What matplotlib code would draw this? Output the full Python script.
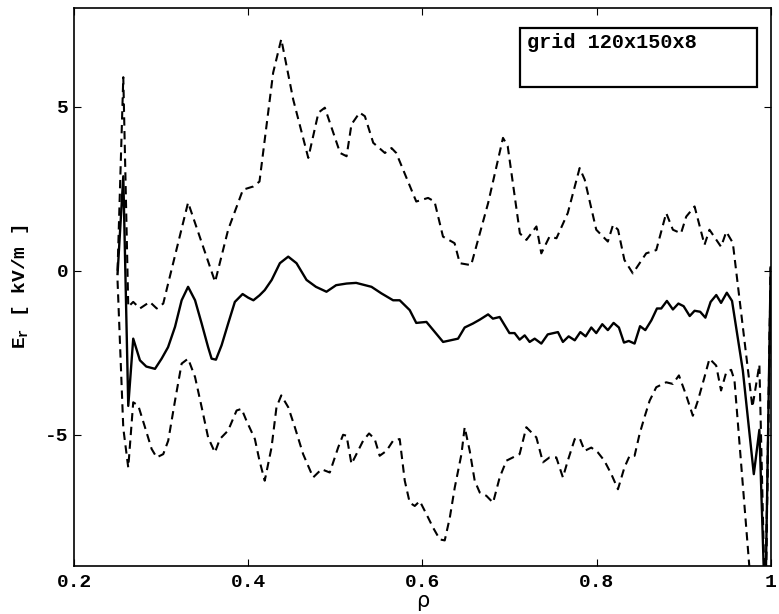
import matplotlib
matplotlib.use("Agg")
import matplotlib.pyplot as plt
from matplotlib.patches import Rectangle

# ---- data ----
rho_mean = [0.250, 0.2566, 0.2623, 0.268, 0.2757, 0.283, 0.293, 0.3006, 0.308, 0.316,
            0.3236, 0.331, 0.339, 0.3466, 0.354, 0.358, 0.363, 0.3695, 0.377, 0.3847,
            0.3936, 0.400, 0.406, 0.413, 0.419, 0.427, 0.4364, 0.446, 0.4555, 0.467,
            0.4778, 0.4899, 0.501, 0.513, 0.524, 0.5416, 0.553, 0.5664, 0.574, 0.5855,
            0.593, 0.6047, 0.6238, 0.641, 0.6486, 0.658, 0.666, 0.6755, 0.681, 0.6888,
            0.700, 0.7059, 0.7117, 0.7175, 0.7232, 0.729, 0.7366, 0.744, 0.7557, 0.7614,
            0.768, 0.775, 0.7814, 0.7875, 0.794, 0.7997, 0.8066, 0.813, 0.8196, 0.8257,
            0.8315, 0.837, 0.8437, 0.850, 0.856, 0.863, 0.8694, 0.8743, 0.8808, 0.8877,
            0.894, 0.900, 0.907, 0.9126, 0.919, 0.925, 0.931, 0.9375, 0.943, 0.9496,
            0.9556, 0.968, 0.9806, 0.987, 0.9937, 1.000]
er_mean = [-0.1, 2.88, -4.12, -2.07, -2.73, -2.92, -2.99, -2.68, -2.33, -1.71,
           -0.9, -0.49, -0.9, -1.61, -2.33, -2.68, -2.71, -2.27, -1.61, -0.95,
           -0.71, -0.82, -0.9, -0.75, -0.59, -0.28, 0.23, 0.43, 0.23, -0.28,
           -0.49, -0.64, -0.44, -0.39, -0.37, -0.49, -0.69, -0.9, -0.9, -1.2,
           -1.59, -1.56, -2.17, -2.07, -1.73, -1.61, -1.49, -1.33, -1.46, -1.41,
           -1.9, -1.9, -2.1, -1.97, -2.17, -2.07, -2.22, -1.94, -1.87, -2.17,
           -2.0, -2.12, -1.87, -2.0, -1.73, -1.9, -1.63, -1.81, -1.59, -1.73,
           -2.19, -2.14, -2.22, -1.69, -1.81, -1.51, -1.15, -1.15, -0.92, -1.18,
           -1.0, -1.08, -1.38, -1.22, -1.25, -1.43, -0.95, -0.74, -0.98, -0.67,
           -0.92, -3.04, -6.2, -4.85, -10.5, 0.1]

rho_up = [0.250, 0.2566, 0.2623, 0.268, 0.2757, 0.287, 0.295, 0.3025, 0.308, 0.331,
          0.362, 0.377, 0.394, 0.406, 0.413, 0.4287, 0.438, 0.4517, 0.469, 0.4807,
          0.488, 0.5056, 0.513, 0.5186, 0.528, 0.534, 0.5436, 0.557, 0.5646, 0.570,
          0.593, 0.6066, 0.614, 0.6237, 0.637, 0.643, 0.656, 0.6755, 0.6926, 0.698,
          0.712, 0.7195, 0.731, 0.7366, 0.746, 0.754, 0.767, 0.7806, 0.7864, 0.7997,
          0.813, 0.819, 0.8247, 0.832, 0.8417, 0.857, 0.8686, 0.880, 0.8877, 0.897,
          0.903, 0.9126, 0.924, 0.9297, 0.943, 0.949, 0.9565, 0.979, 0.987, 0.9937,
          1.000]
er_up = [0.0, 5.9, -1.1, -0.95, -1.15, -0.95, -1.15, -1.0, -0.4, 2.08,
         -0.34, 1.25, 2.47, 2.57, 2.72, 6.04, 7.06, 5.22, 3.44, 4.82,
         4.97, 3.59, 3.49, 4.46, 4.82, 4.71, 3.9, 3.59, 3.74, 3.59,
         2.11, 2.22, 2.11, 1.04, 0.84, 0.23, 0.17, 2.06, 4.05, 3.8,
         1.14, 0.94, 1.35, 0.53, 1.04, 0.99, 1.76, 3.13, 2.78, 1.25,
         0.89, 1.4, 1.25, 0.33, -0.08, 0.53, 0.63, 1.76, 1.25, 1.14,
         1.65, 1.96, 0.79, 1.25, 0.73, 1.19, 0.85, -4.16, -2.86, -10.5,
         0.1]

rho_lo = [0.250, 0.2566, 0.2623, 0.268, 0.2738, 0.2815, 0.2891, 0.2949, 0.3025, 0.3082,
          0.316, 0.3236, 0.331, 0.339, 0.3466, 0.354, 0.3618, 0.3675, 0.377, 0.3867,
          0.3924, 0.398, 0.4077, 0.413, 0.419, 0.4268, 0.4325, 0.438, 0.446, 0.4536,
          0.4631, 0.4746, 0.4842, 0.4937, 0.5033, 0.509, 0.513, 0.5186, 0.5243, 0.532,
          0.5388, 0.5453, 0.551, 0.5588, 0.5664, 0.574, 0.5798, 0.5855, 0.5913, 0.597,
          0.6047, 0.6123, 0.620, 0.6257, 0.6315, 0.6372, 0.6449, 0.6486, 0.6544, 0.6601,
          0.6659, 0.6735, 0.6812, 0.6888, 0.6965, 0.704, 0.7117, 0.7194, 0.7309, 0.7385,
          0.746, 0.7538, 0.7614, 0.767, 0.775, 0.7806, 0.7864, 0.794, 0.8016, 0.809,
          0.817, 0.8246, 0.832, 0.838, 0.8437, 0.8494, 0.855, 0.861, 0.8686, 0.880,
          0.8877, 0.8946, 0.903, 0.9106, 0.9164, 0.924, 0.9297, 0.9374, 0.943, 0.949,
          0.9546, 0.9584, 0.9756, 0.981, 0.987, 0.9937, 1.000]
er_lo = [-0.3, -4.8, -6.0, -4.01, -4.11, -4.77, -5.43, -5.69, -5.59, -5.18,
         -3.96, -2.83, -2.68, -3.24, -4.16, -5.08, -5.54, -5.13, -4.87, -4.26,
         -4.21, -4.57, -5.13, -5.79, -6.4, -5.39, -4.16, -3.8, -4.16, -4.77,
         -5.59, -6.3, -6.05, -6.15, -5.39, -5.0, -5.03, -5.89, -5.59, -5.18,
         -4.96, -5.13, -5.64, -5.49, -5.18, -5.13, -6.4, -7.07, -7.17, -7.02,
         -7.42, -7.83, -8.19, -8.22, -7.53, -6.61, -5.59, -4.77, -5.49, -6.4,
         -6.76, -6.86, -7.07, -6.3, -5.79, -5.69, -5.59, -4.77, -5.08, -5.84,
         -5.69, -5.69, -6.3, -5.79, -5.13, -5.1, -5.49, -5.39, -5.54, -5.79,
         -6.2, -6.66, -6.0, -5.64, -5.64, -4.98, -4.47, -3.96, -3.55, -3.4,
         -3.45, -3.19, -3.8, -4.42, -3.96, -3.24, -2.68, -2.89, -3.65, -3.09,
         -3.02, -3.34, -9.06, -11.0, -11.0, -11.0, 0.1]

x_ticks = [0.2, 0.4, 0.6, 0.8, 1.0]
x_ticklabels = ["0.2", "0.4", "0.6", "0.8", "1"]
y_ticks = [-5, 0, 5]
y_ticklabels = ["-5", "0", "5"]
legend_text = "grid 120x150x8"

# ---- figure ----
W, H = 779, 614
fig = plt.figure(figsize=(W / 100, H / 100), dpi=100)
ax = fig.add_axes([74 / W, (H - 566) / H, (770.7 - 74) / W, (566 - 8.3) / H])

mono = ["Liberation Mono", "DejaVu Sans Mono"]
dash = (0, (4.0, 2.6))

ax.plot(rho_up, er_up, color="black", lw=1.5, linestyle=dash)
ax.plot(rho_lo, er_lo, color="black", lw=1.5, linestyle=dash)
ax.plot(rho_mean, er_mean, color="black", lw=1.7)

ax.set_xlim(0.2, 1.0)
ax.set_ylim(-9, 8)
ax.set_xticks(x_ticks)
ax.set_xticklabels(x_ticklabels, fontfamily=mono, fontweight="bold", fontsize=14)
ax.set_yticks(y_ticks)
ax.set_yticklabels(y_ticklabels, fontfamily=mono, fontweight="bold", fontsize=14)
ax.tick_params(direction="in", length=5, width=0.8, top=True, right=True, pad=6)
ax.tick_params(axis="y", pad=4)
for s in ax.spines.values():
    s.set_linewidth(1.2)

ax.set_xlabel("ρ", fontsize=15, fontfamily="DejaVu Sans", labelpad=0)
ax.set_ylabel(r"E$_\mathregular{r}$ [ kV/m ]", fontfamily=mono, fontweight="bold",
              fontsize=14, labelpad=10)

# legend-like text box
bx0 = (520 - 74) / (770.7 - 74)
bx1 = (757 - 74) / (770.7 - 74)
by1 = 1 - (28 - 8.3) / (566 - 8.3)
by0 = 1 - (87 - 8.3) / (566 - 8.3)
ax.add_patch(Rectangle((bx0, by0), bx1 - bx0, by1 - by0, transform=ax.transAxes,
                       facecolor="white", edgecolor="black", lw=1.6, zorder=5))
ax.text((527 - 74) / (770.7 - 74), 1 - (48.5 - 8.3) / (566 - 8.3), legend_text,
        transform=ax.transAxes, fontfamily=mono, fontweight="bold", fontsize=14.5,
        va="baseline", ha="left", zorder=6)

fig.savefig("out.png", dpi=100)
